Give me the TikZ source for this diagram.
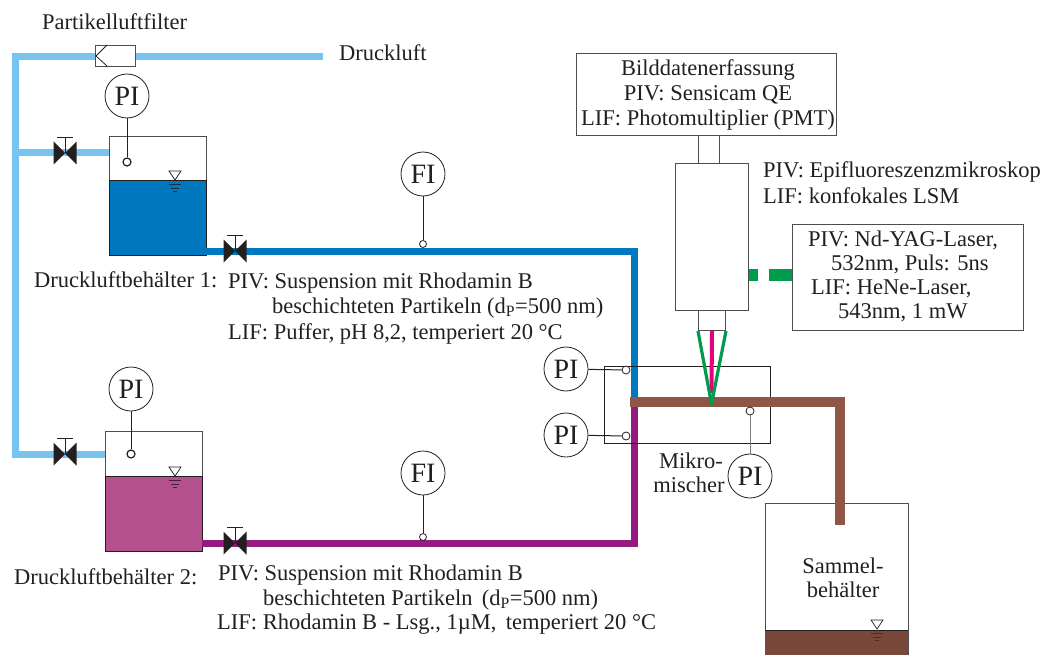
\documentclass[tikz,border=0pt]{standalone}
\usepackage{fontspec}
\setmainfont{Liberation Serif}
\definecolor{air}{HTML}{77C4F0}
\definecolor{bluew}{HTML}{0078C0}
\definecolor{purp}{HTML}{951C7E}
\definecolor{pinkw}{HTML}{B5508F}
\definecolor{brownw}{HTML}{8F5545}
\definecolor{greenw}{HTML}{009B4D}
\definecolor{magw}{HTML}{E5007D}
\definecolor{ink}{HTML}{231F20}
\tikzset{
 txt/.style={anchor=base west,inner sep=0pt,text=ink,font=\fontsize{22.5}{26}\selectfont},
 ctxt/.style={anchor=base,inner sep=0pt,text=ink,font=\fontsize{22.5}{26}\selectfont},
 instr/.style={circle,draw=ink,line width=.8pt,fill=white,minimum size=44pt,inner sep=0pt,text=ink,font=\fontsize{28}{30}\selectfont},
 probe/.style={circle,draw=ink,line width=1.2pt,fill=white,minimum size=8pt,inner sep=0pt},
 tap/.style={circle,draw=ink,line width=.8pt,fill=white,minimum size=7pt,inner sep=0pt},
 box/.style={draw=ink!80,line width=1pt,fill=white,anchor=north west,inner sep=0pt},
 pipe/.style={line width=#1,line cap=butt,line join=miter},
 wire/.style={draw=ink,line width=1pt},
}
\newcommand{\vlv}[3]{%
 \coordinate (#1) at (#2,#3);
 \fill[ink] (#2-11.5,#3-11.5) -- (#2+11.5,#3+11.5) -- (#2+11.5,#3-11.5) -- (#2-11.5,#3+11.5) -- cycle;
 \draw[ink,line width=.8pt] (#2,#3) -- (#2,#3-16) (#2-8,#3-16) -- (#2+8,#3-16);}
\newcommand{\lvl}[4]{%
 \draw[ink,line width=.7pt,fill=white] (#1-6,#2-9) -- (#1+6,#2-9) -- (#1,#2) -- cycle;
 \draw[#3,line width=1pt] (#1-6,#2+4) -- (#1+6,#2+4) (#1-4,#2+8) -- (#1+4,#2+8) (#1-2,#2+11) -- (#1+2,#2+11);}
\begin{document}
\begin{tikzpicture}[x=1pt,y=-1pt]
\useasboundingbox (0,0) rectangle (1048,655);
% air lines
\coordinate (airend) at (323,57);
\coordinate (aircorner) at (15,57);
\coordinate (airbot) at (15,454);
\coordinate (t1in) at (109,153);
\coordinate (t2in) at (105,454);
\coordinate (j1) at (15,153);
\draw[air,pipe=7pt] (airend) -- (aircorner) -- (airbot) -- (t2in);
\draw[air,pipe=7pt] (j1) -- (t1in);
% tank 1
\node[box,minimum width=97pt,minimum height=119pt] (tank1) at (109,136) {};
\fill[bluew] (109,180) rectangle (206,255);
\draw[ink,line width=1pt] (109,180) -- (206,180) -- (206,255) -- (109,255) -- cycle;
\lvl{175}{180}{ink!80!bluew}{}
% tank 2
\node[box,minimum width=97pt,minimum height=120pt] (tank2) at (105,431) {};
\fill[pinkw] (105,476) rectangle (202,551);
\draw[ink,line width=1pt] (105,476) -- (202,476) -- (202,551) -- (105,551) -- cycle;
\lvl{175}{476}{ink!70!purp}{}
% blue + purple pipes
\coordinate (b0) at (206,251);
\coordinate (bc) at (634,251);
\coordinate (be) at (634,398);
\coordinate (p0) at (202,543);
\coordinate (pc) at (634,543);
\coordinate (pe) at (634,405);
\draw[bluew,pipe=7pt] (b0) -- (bc) -- (be);
\draw[purp,pipe=7pt] (p0) -- (pc) -- (pe);
% filter
\node[box,minimum width=40pt,minimum height=21pt] (filter) at (95,45) {};
\draw[ink,line width=.8pt] (107,45) -- (96,56) -- (107,66);
% valves
\vlv{v1}{65}{153}
\vlv{v2}{65}{454}
\vlv{v3}{235}{251}
\vlv{v4}{235}{543}
% micromixer
\node[draw=ink,line width=.8pt,anchor=north west,inner sep=0pt,minimum width=166pt,minimum height=77pt] (mixer) at (604,366) {};
% brown
\coordinate (br0) at (630,402);
\coordinate (brc) at (840,402);
\coordinate (bre) at (840,525);
% collection tank
\node[box,minimum width=143pt,minimum height=155pt] (coll) at (765,503) {};
\fill[brownw!85!black] (765,630) rectangle (908,655);
\draw[ink,line width=1pt] (765,630) -- (908,630);
\lvl{877}{629}{ink!70!brownw}{}
\draw[brownw,pipe=10pt] (br0) -- (brc) -- (bre);
% instruments
\node[instr] (pi1) at (127,96) {PI};
\node[probe] (pr1) at (127,162) {};
\draw[wire] (pi1) -- (pr1);
\node[instr] (pi2) at (131,389) {PI};
\node[probe] (pr2) at (131,454) {};
\draw[wire] (pi2) -- (pr2);
\node[instr] (fi1) at (423,174) {FI};
\node[tap] (tf1) at (423,244) {};
\draw[wire] (fi1) -- (tf1);
\node[instr] (fi2) at (423,473) {FI};
\node[tap] (tf2) at (423,537) {};
\draw[wire] (fi2) -- (tf2);
\node[instr] (pi3) at (566,369) {PI};
\node[probe,line width=.8pt] (pr3) at (626,370) {};
\draw[wire] (pi3) -- (pr3);
\node[instr] (pi4) at (566,435) {PI};
\node[probe,line width=.8pt] (pr4) at (626,436) {};
\draw[wire] (pi4) -- (pr4);
\node[instr] (pi5) at (750,476) {PI};
\node[probe,line width=.8pt] (pr5) at (750,411) {};
\draw[draw=ink!60,line width=1pt] (pi5) -- (pr5);
% microscope
\node[box,minimum width=260pt,minimum height=82pt] (cam) at (576,53) {};
\node[box,minimum width=21pt,minimum height=28pt] (tube) at (698,135) {};
\node[box,minimum width=73pt,minimum height=147pt] (scope) at (675,163) {};
\node[box,minimum width=27pt,minimum height=20pt] (obj) at (698,310) {};
\node[box,minimum width=231pt,minimum height=106pt] (laser) at (792,224) {};
\coordinate (focus) at (711.5,404);
\draw[magw,line width=4pt] (obj.south) -- (711.5,393);
\draw[greenw,line width=3.2pt,line join=round] (obj.south west) -- (focus) -- (obj.south east);
\draw[greenw,line width=12pt,dash pattern=on 9pt off 11pt on 24pt off 0pt] (scope.east |- 0,275) -- (laser.west |- 0,275);
% text
\node[txt] (t1) at (42,30) {Partikelluftfilter};
\node[txt] (t2) at (339,61) {Druckluft};
\node[ctxt] (t3) at (708,76) {Bilddatenerfassung};
\node[ctxt] (t4) at (708,101) {PIV: Sensicam QE};
\node[ctxt] (t5) at (708,126) {LIF: Photomultiplier (PMT)};
\node[txt] (t6) at (763,177) {PIV: Epifluoreszenzmikroskop};
\node[txt] (t7) at (763,203) {LIF: konfokales LSM};
\node[txt] (t8) at (808,246) {PIV: Nd-YAG-Laser,};
\node[txt] (t9) at (831,270) {532nm, Puls: 5ns};
\node[txt] (t10) at (811,294) {LIF: HeNe-Laser,};
\node[txt] (t11) at (838,318) {543nm, 1 mW};
\node[txt] (t12) at (34,287) {Druckluftbehälter 1:};
\node[txt] (t13) at (228,288) {PIV: Suspension mit Rhodamin B};
\node[txt] (t14) at (272,313) {beschichteten Partikeln (d\textsubscript{P}=500 nm)};
\node[txt] (t15) at (228,339) {LIF: Puffer, pH 8,2, temperiert 20 °C};
\node[txt] (t16) at (14,584) {Druckluftbehälter 2:};
\node[txt] (t17) at (218,580) {PIV: Suspension mit Rhodamin B};
\node[txt] (t18) at (263,605) {beschichteten Partikeln \,(d\textsubscript{P}=500 nm)};
\node[txt] (t19) at (217,629) {LIF: Rhodamin B - Lsg., 1µM, \,temperiert 20 °C};
\node[ctxt] (t20) at (691,468) {Mikro-};
\node[ctxt] (t21) at (689,492) {mischer};
\node[ctxt] (t22) at (843,573) {Sammel-};
\node[ctxt] (t23) at (843,597) {behälter};
\end{tikzpicture}
\end{document}
